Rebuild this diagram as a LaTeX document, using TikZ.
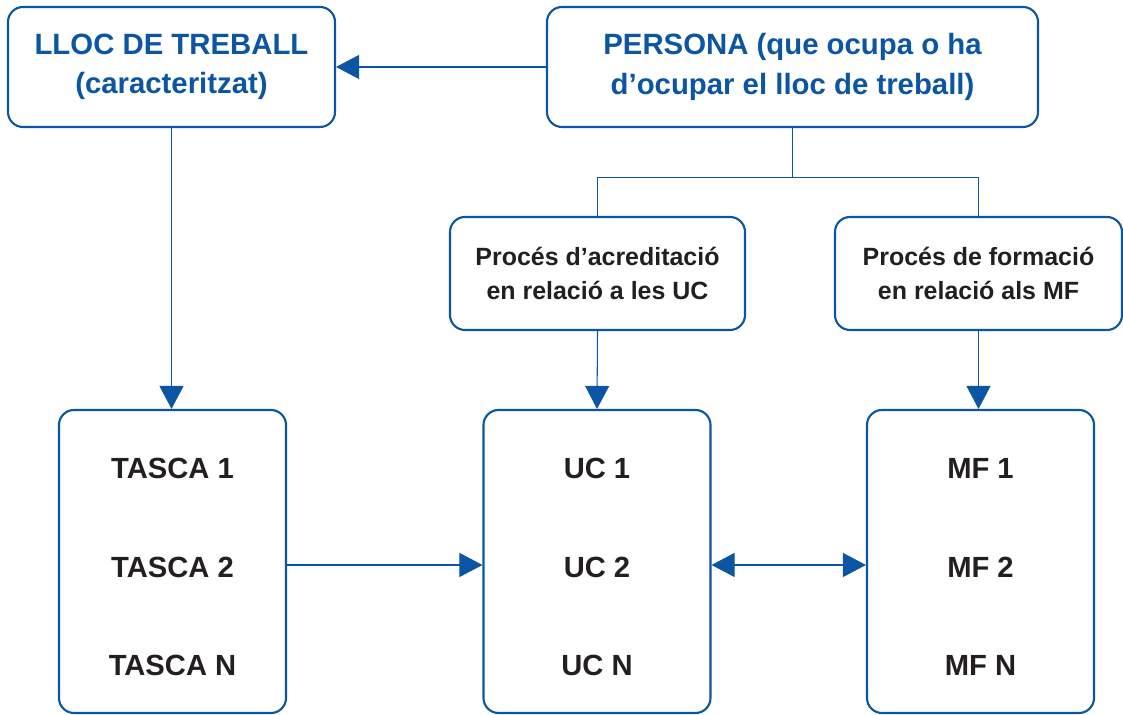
\documentclass[tikz,border=0pt]{standalone}
\usepackage{fontspec}
\setmainfont{Liberation Sans}
\usepackage{xcolor}
\usetikzlibrary{arrows.meta}
\definecolor{blau}{HTML}{0B55A3}
\definecolor{negre}{HTML}{231F20}
\newcommand{\alca}{\rule{0pt}{18pt}}

\tikzset{
  caixa/.style={draw=blau, line width=1.2pt, rounded corners=0.3cm, align=center, inner sep=0pt},
  titol/.style={caixa, text=blau, font=\bfseries\fontsize{16.7}{22.5}\selectfont},
  proces/.style={caixa, text=negre, font=\bfseries\fontsize{14.2}{18.8}\selectfont},
  llista/.style={caixa, text=negre, font=\bfseries\fontsize{16.6}{56}\selectfont,
    minimum width=4.54cm, minimum height=6.06cm},
  fletxa/.style={draw=blau, line width=0.6pt, -{Triangle[length=0.46cm, width=0.48cm]}},
  linia/.style={draw=blau, line width=0.6pt}
}

\begin{document}
\begin{tikzpicture}
  \useasboundingbox (0,0) rectangle (22.46,14.3);
  % top row
  \node[titol, minimum width=6.54cm, minimum height=2.4cm] (lloc) at (3.43,12.96)
    {LLOC DE TREBALL\\(caracteritzat)};
  \node[titol, minimum width=9.82cm, minimum height=2.4cm] (persona) at (15.85,12.96)
    {PERSONA (que ocupa o ha\\d’ocupar el lloc de treball)};
  % processes
  \node[proces, minimum width=5.9cm, minimum height=2.26cm] (acred) at (11.95,8.83)
    {Procés d’acreditació\\en relació a les UC};
  \node[proces, minimum width=5.74cm, minimum height=2.26cm] (form) at (19.57,8.83)
    {Procés de formació\\en relació als MF};
  % bottom row
  \node[llista] (tasca) at (3.45,3.07) {\alca TASCA 1\\TASCA 2\\TASCA N};
  \node[llista] (uc) at (11.94,3.07) {\alca UC 1\\UC 2\\UC N};
  \node[llista] (mf) at (19.61,3.07) {\alca MF 1\\MF 2\\MF N};
  % connectors
  \draw[fletxa] (persona.west) -- (lloc.east);
  \draw[fletxa] (lloc.south) -- (lloc.south |- tasca.north);
  \draw[linia] (persona.south) -- ++(0,-0.98) coordinate (fork);
  \draw[linia] (acred.north) |- (fork) -| (form.north);
  \draw[fletxa] (acred.south) -- (uc.north);
  \draw[fletxa] (form.south) -- (form.south |- mf.north);
  \draw[fletxa] ([yshift=-0.07cm]tasca.east) -- ([yshift=-0.07cm]uc.west);
  \draw[fletxa, {Triangle[length=0.46cm, width=0.48cm]}-{Triangle[length=0.46cm, width=0.48cm]}]
    ([yshift=-0.07cm]uc.east) -- ([yshift=-0.07cm]mf.west);
\end{tikzpicture}
\end{document}
